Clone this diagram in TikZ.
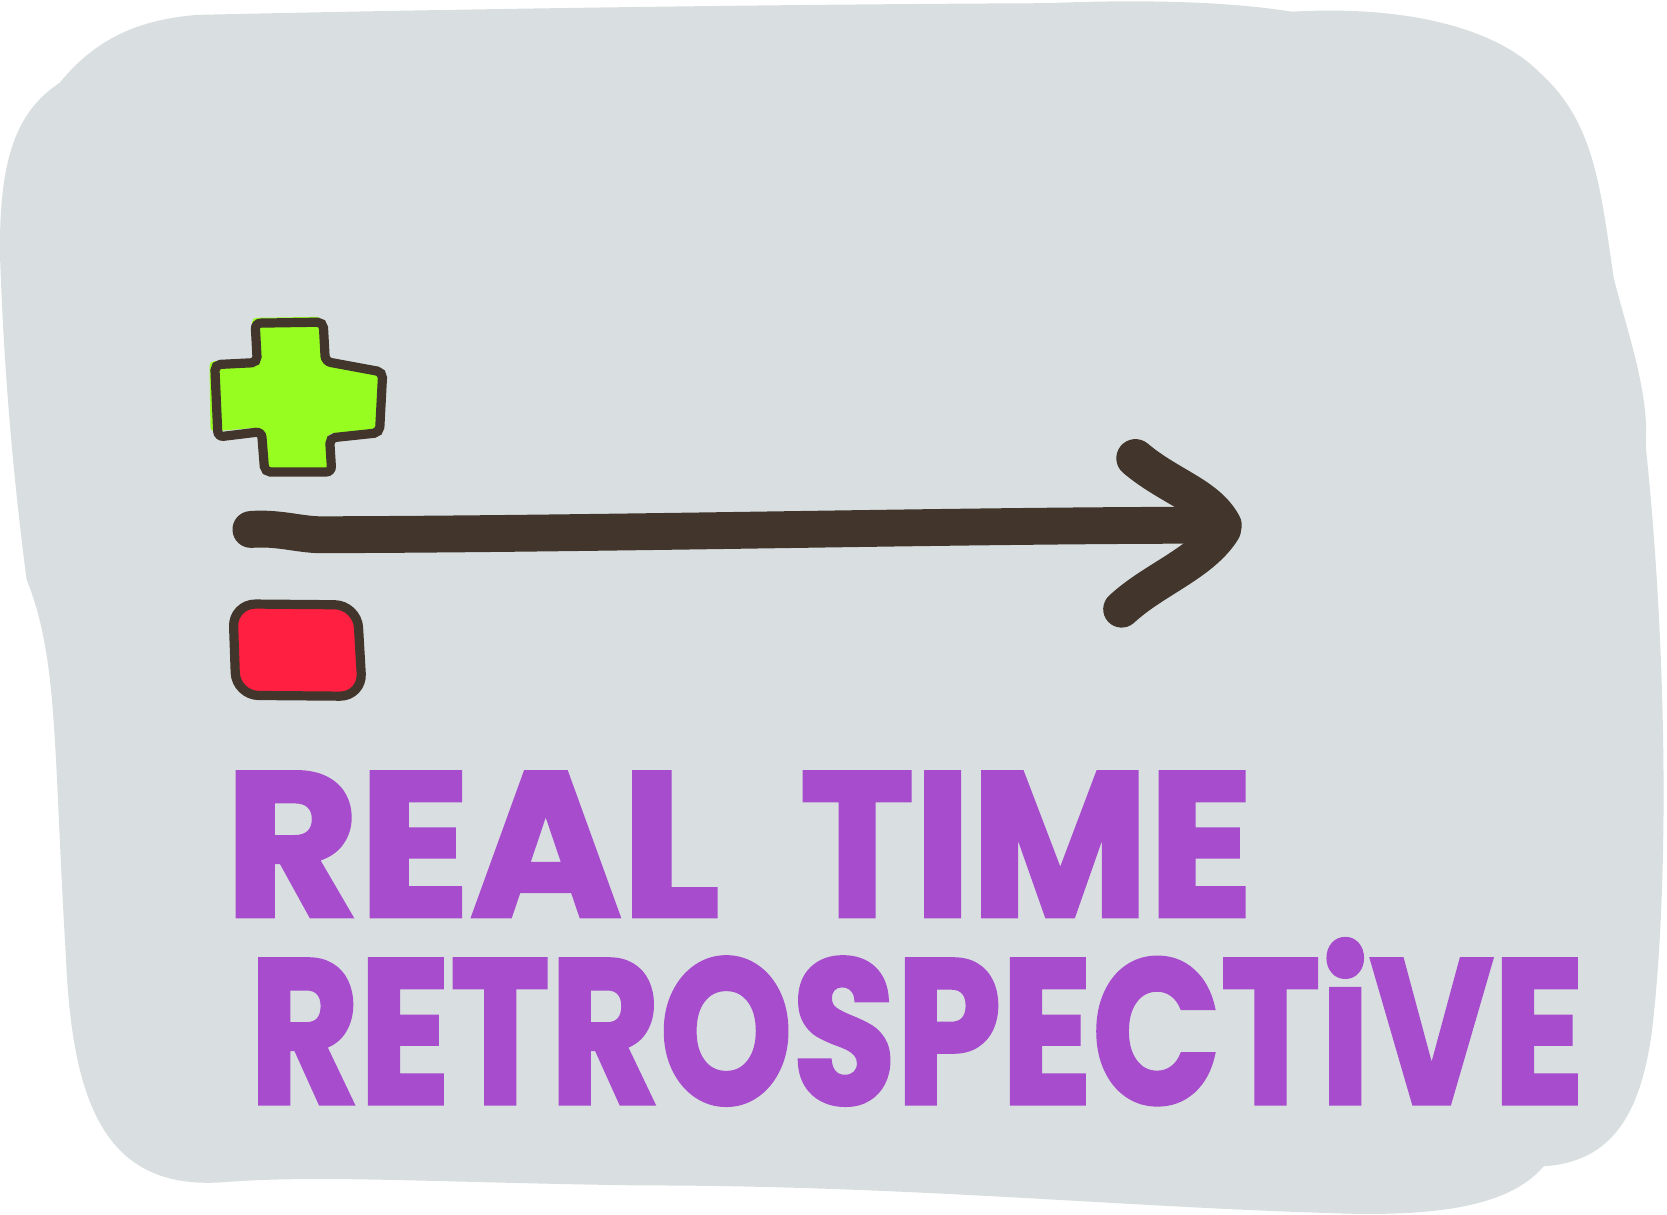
\documentclass[tikz,border=0pt]{standalone}
\usepackage{fontspec}
\newfontfamily\handfont{Poppins}[BoldFeatures={FakeBold=2}]
\definecolor{blobgray}{RGB}{217,223,225}
\definecolor{inkbrown}{RGB}{65,53,44}
\definecolor{plusgreen}{RGB}{151,252,31}
\definecolor{minusred}{RGB}{255,31,65}
\definecolor{letterpurple}{RGB}{166,76,204}
\tikzset{every picture/.style={line width=0.75pt}}

\begin{document}
\begin{tikzpicture}[x=0.75pt,y=0.75pt,yscale=-1,xscale=1]
  \useasboundingbox (0,0) rectangle (1568,1142);

  %Shape: Blob [id:bg]
  \fill [blobgray] (56,78) .. controls (95,30) and (140,18) .. (185,14) .. controls (450,8) and (750,4) .. (985,3) .. controls (1080,-1) and (1160,2) .. (1215,11) .. controls (1320,5) and (1405,25) .. (1448,68) .. controls (1500,115) and (1505,175) .. (1518,262) .. controls (1530,310) and (1552,370) .. (1548,420) .. controls (1565,580) and (1572,800) .. (1555,960) .. controls (1545,1050) and (1515,1093) .. (1452,1097) .. controls (1420,1135) and (1350,1145) .. (1250,1141) .. controls (1050,1135) and (850,1115) .. (600,1115) .. controls (400,1112) and (300,1105) .. (210,1112) .. controls (100,1120) and (68,1040) .. (62,900) .. controls (50,700) and (55,620) .. (25,545) .. controls (10,430) and (3,330) .. (0,240) .. controls (-1,150) and (15,105) .. (56,78) -- cycle ;

  %Shape: Plus [id:plus]
  \fill [plusgreen, rounded corners=3] (237,299) -- (302,298) -- (304,336) -- (360,346) -- (355,404) -- (308,408) -- (310,442) -- (247,442) -- (244,402) -- (198,406) -- (197,340) -- (239,338) -- cycle ;
  \draw [inkbrown, line width=6.5, rounded corners=4] (240,304) -- (304,303) -- (306,340) -- (360,350) -- (357,407) -- (310,412) -- (312,444) -- (249,444) -- (246,406) -- (205,411) -- (202,343) -- (242,341) -- cycle ;

  %Shape: Minus [id:minus]
  \fill [minusred, rounded corners=16] (216,566) -- (336,566) -- (340,652) -- (220,651) -- cycle ;
  \draw [inkbrown, line width=6.5, rounded corners=16] (219,568) -- (336,569) -- (341,655) -- (222,654) -- cycle ;

  %Curve Lines [id:shaft]
  \draw [inkbrown, line width=26, line cap=round] (236,498) .. controls (262,496) and (282,503) .. (302,503) .. controls (600,502) and (900,494) .. (1148,494) ;
  %Curve Lines [id:barbup]
  \draw [inkbrown, line width=27, line cap=round] (1068,431) .. controls (1100,458) and (1135,466) .. (1150,494) ;
  %Curve Lines [id:barbdown]
  \draw [inkbrown, line width=26, line cap=round] (1055,573) .. controls (1085,545) and (1130,530) .. (1150,498) ;

  % Text Node
  \draw (211,862) node (real) [anchor=base west, inner sep=0pt, text=letterpurple] {\handfont\bfseries\fontsize{145}{150}\selectfont REAL};
  % Text Node
  \draw (752,862) node (time) [anchor=base west, inner sep=0pt, text=letterpurple] {\scalebox{0.94}[1]{\handfont\bfseries\fontsize{145}{150}\selectfont TIME}};
  % Text Node
  \draw (234,1038) node (retro) [anchor=base west, inner sep=0pt, text=letterpurple] {\scalebox{0.82}[1]{\handfont\bfseries\fontsize{145}{150}\selectfont RETROSPECTiVE}};

\end{tikzpicture}
\end{document}
